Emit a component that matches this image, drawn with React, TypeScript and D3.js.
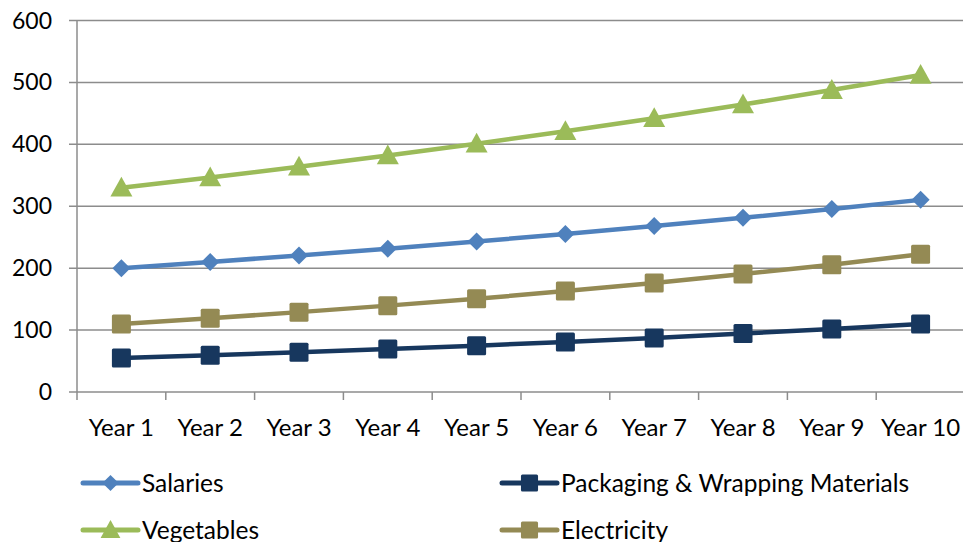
import React from "react";
import * as d3 from "d3";

const categories = ["Year 1","Year 2","Year 3","Year 4","Year 5","Year 6","Year 7","Year 8","Year 9","Year 10"];
const salaries = [200, 210, 220.5, 231.5, 243.1, 255.3, 268, 281.4, 295.5, 310.3];
const packaging = [55, 59.4, 64.2, 69.3, 74.8, 80.8, 87.3, 94.3, 101.8, 109.9];
const vegetables = [330, 346.5, 363.8, 382, 401.1, 421.2, 442.2, 464.3, 487.6, 511.9];
const electricity = [110, 119, 129, 139.5, 150.5, 163, 176, 190.5, 205.5, 222.5];
const yTicks = [0, 100, 200, 300, 400, 500, 600];

const series = [
  { name: "Salaries", values: salaries, color: "#4F81BD", marker: "diamond" },
  { name: "Packaging & Wrapping Materials", values: packaging, color: "#17375E", marker: "square" },
  { name: "Vegetables", values: vegetables, color: "#9BBB59", marker: "triangle" },
  { name: "Electricity", values: electricity, color: "#948A54", marker: "square" },
];
const drawOrder = [0, 1, 3, 2];
const legendPos = [
  { x: 83, y: 483 }, { x: 502, y: 483 }, { x: 83, y: 530 }, { x: 502, y: 530 },
];

const FONT = "Lato, 'Open Sans', sans-serif";

function Marker({ type, x, y, color, s = 1 }: any) {
  if (type === "diamond") {
    const r = 9 * s;
    return <path d={`M${x},${y - r}L${x + r},${y}L${x},${y + r}L${x - r},${y}Z`} fill={color} />;
  }
  if (type === "square") {
    const h = 9.5 * s;
    return <rect x={x - h} y={y - h} width={2 * h} height={2 * h} rx={1.5} fill={color} />;
  }
  const r = 11 * s;
  return <path d={`M${x},${y - r}L${x + r},${y + r * 0.8}L${x - r},${y + r * 0.8}Z`} fill={color} />;
}

export default function App() {
  const W = 963, H = 542;
  const left = 77, band = 88.8;
  const x = d3.scaleBand().domain(categories).range([left, left + band * 10]);
  const y = d3.scaleLinear().domain([0, 600]).range([392, 20.5]);
  const line = d3.line<number>().x((_, i) => (x(categories[i]) as number) + band / 2).y((d) => y(d));

  return (
    <svg width={W} height={H} style={{ position: "absolute", left: 0, top: 0 }}>
      <rect width={W} height={H} fill="#fff" />
      {yTicks.map((t) => (
        <g key={t}>
          <line x1={69} x2={W} y1={y(t)} y2={y(t)} stroke="#8c8c8c" strokeWidth={1.5} />
          <text x={52} y={y(t)} dy="0.35em" textAnchor="end" fontFamily={FONT} fontSize={23} fill="#000">{t}</text>
        </g>
      ))}
      <line x1={left} x2={left} y1={y(600)} y2={y(0) + 8} stroke="#8c8c8c" strokeWidth={1.5} />
      {categories.map((c, i) => (
        <g key={c}>
          <line x1={left + band * (i + 1)} x2={left + band * (i + 1)} y1={y(0)} y2={y(0) + 8} stroke="#8c8c8c" strokeWidth={1.5} />
          <text x={(x(c) as number) + band / 2} y={436} textAnchor="middle" fontFamily={FONT} fontSize={24} fill="#000">{c}</text>
        </g>
      ))}
      {drawOrder.map((si) => {
        const s = series[si];
        return (
          <g key={s.name}>
            <path d={line(s.values) as string} fill="none" stroke={s.color} strokeWidth={4.5} strokeLinejoin="round" />
            {s.values.map((v, i) => (
              <Marker key={i} type={s.marker} x={(x(categories[i]) as number) + band / 2} y={y(v)} color={s.color} />
            ))}
          </g>
        );
      })}
      {series.map((s, i) => {
        const p = legendPos[i];
        return (
          <g key={s.name}>
            <line x1={p.x} x2={p.x + 55} y1={p.y} y2={p.y} stroke={s.color} strokeWidth={5} strokeLinecap="round" />
            <Marker type={s.marker} x={p.x + 27.5} y={p.y} color={s.color} s={0.9} />
            <text x={p.x + 59} y={p.y} dy="0.35em" fontFamily={FONT} fontSize={24.5} fill="#000">{s.name}</text>
          </g>
        );
      })}
    </svg>
  );
}
